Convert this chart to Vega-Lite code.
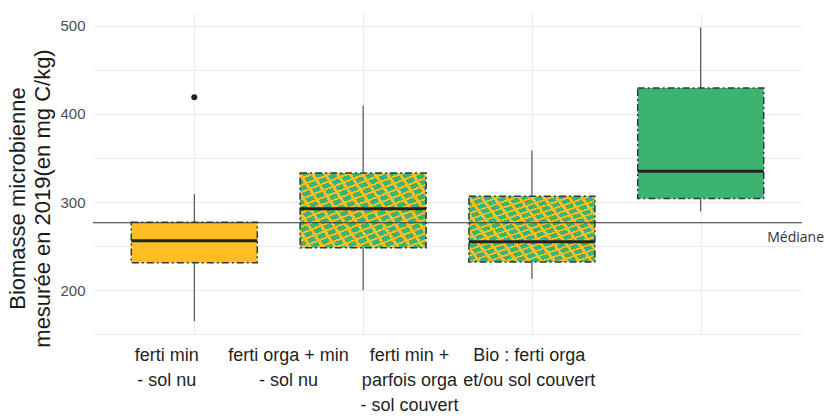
{
  "$schema": "https://vega.github.io/schema/vega-lite/v6.json",
  "width": 709,
  "height": 323,
  "autosize": {"type": "none"},
  "padding": {"left": 93, "top": 13, "right": 24, "bottom": 83},
  "background": "white",
  "config": {"view": {"stroke": null}},
  "datasets": {
    "boxes": [
      {"group": "ferti min\n - sol nu", "lower": 165, "q1": 231, "median": 256, "q3": 277, "upper": 309},
      {"group": "ferti orga + min\n - sol nu", "lower": 200, "q1": 248, "median": 292.5, "q3": 333, "upper": 409.5},
      {"group": "ferti min +\nparfois orga\n - sol couvert", "lower": 213, "q1": 232, "median": 255, "q3": 306.5, "upper": 358.5},
      {"group": "Bio : ferti orga\net/ou sol couvert", "lower": 289.5, "q1": 304, "median": 335, "q3": 429.5, "upper": 498}
    ],
    "outliers": [
      {"group": "ferti min\n - sol nu", "value": 419}
    ],
    "overall": [
      {"label": "Médiane", "value": 276.5}
    ]
  },
  "layer": [
    {
      "data": {"name": "boxes"},
      "mark": {"type": "rule", "color": "#333333", "strokeWidth": 1},
      "encoding": {
        "x": {
          "field": "group", "type": "nominal",
          "scale": {"type": "point", "padding": 0.6, "domain": ["ferti min\n - sol nu", "ferti orga + min\n - sol nu", "ferti min +\nparfois orga\n - sol couvert", "Bio : ferti orga\net/ou sol couvert"]},
          "axis": {
            "title": null,
            "domain": false,
            "ticks": false,
            "tickSize": 0,
            "grid": true,
            "gridColor": "#ebebeb",
            "gridWidth": 1,
            "labelAngle": 0,
            "labelAlign": "center",
            "labelBaseline": "top",
            "labelPadding": 10,
            "labelFont": "Liberation Sans",
            "labelFontSize": 18,
            "labelLineHeight": 25,
            "labelColor": "#1f1f1f",
            "labelExpr": "split(datum.label, '\\n')",
            "labelOffset": {
              "condition": [
                {"test": "indexof(datum.value, 'orga + min') >= 0", "value": -75},
                {"test": "indexof(datum.value, 'parfois') >= 0", "value": -123},
                {"test": "indexof(datum.value, 'Bio') >= 0", "value": -172}
              ],
              "value": -28
            }
          }
        },
        "y": {
          "field": "lower", "type": "quantitative",
          "scale": {"domain": [148, 514.5], "nice": false, "zero": false},
          "axis": {
            "values": [150, 200, 250, 300, 350, 400, 450, 500],
            "labelExpr": "datum.value % 100 === 0 ? datum.label : ''",
            "domain": false,
            "ticks": false,
            "tickSize": 0,
            "grid": true,
            "gridColor": "#ebebeb",
            "gridWidth": 1,
            "labelPadding": 8,
            "labelFont": "Liberation Sans",
            "labelFontSize": 15,
            "labelColor": "#4d4d4d",
            "title": ["Biomasse microbienne", "mesurée en 2019(en mg C/kg)"],
            "titleFont": "Liberation Sans",
            "titleFontSize": 22,
            "titleFontWeight": "normal",
            "titleColor": "#1a1a1a",
            "titleLineHeight": 25,
            "titlePadding": 5,
            "titleY": 185
          }
        },
        "y2": {"field": "upper"}
      }
    },
    {
      "data": {"name": "boxes"},
      "mark": {"type": "bar", "size": 126},
      "encoding": {
        "x": {"field": "group", "type": "nominal"},
        "y": {"field": "q1", "type": "quantitative"},
        "y2": {"field": "q3"},
        "color": {
          "field": "group", "type": "nominal", "legend": null,
          "scale": {"domain": ["ferti min\n - sol nu", "ferti orga + min\n - sol nu", "ferti min +\nparfois orga\n - sol couvert", "Bio : ferti orga\net/ou sol couvert"], "range": ["#FDBE23", "#3CB371", "#3CB371", "#3CB371"]}
        }
      }
    },
    {
      "data": {"name": "boxes"},
      "transform": [{"filter": {"field": "group", "oneOf": ["ferti orga + min\n - sol nu", "ferti min +\nparfois orga\n - sol couvert"]}}],
      "mark": {
        "type": "bar", "size": 126,
        "fill": {
          "gradient": "linear", "x1": 0, "y1": 0, "x2": 0.759, "y2": 1.157,
          "stops": [
            {"offset": 0, "color": "rgba(253,190,35,0)"}, {"offset": 0.03889, "color": "rgba(253,190,35,0)"}, {"offset": 0.03889, "color": "#FDBE23"}, {"offset": 0.05556, "color": "#FDBE23"},
            {"offset": 0.05556, "color": "rgba(253,190,35,0)"}, {"offset": 0.09444, "color": "rgba(253,190,35,0)"}, {"offset": 0.09444, "color": "#FDBE23"}, {"offset": 0.11111, "color": "#FDBE23"},
            {"offset": 0.11111, "color": "rgba(253,190,35,0)"}, {"offset": 0.15, "color": "rgba(253,190,35,0)"}, {"offset": 0.15, "color": "#FDBE23"}, {"offset": 0.16667, "color": "#FDBE23"},
            {"offset": 0.16667, "color": "rgba(253,190,35,0)"}, {"offset": 0.20556, "color": "rgba(253,190,35,0)"}, {"offset": 0.20556, "color": "#FDBE23"}, {"offset": 0.22222, "color": "#FDBE23"},
            {"offset": 0.22222, "color": "rgba(253,190,35,0)"}, {"offset": 0.26111, "color": "rgba(253,190,35,0)"}, {"offset": 0.26111, "color": "#FDBE23"}, {"offset": 0.27778, "color": "#FDBE23"},
            {"offset": 0.27778, "color": "rgba(253,190,35,0)"}, {"offset": 0.31667, "color": "rgba(253,190,35,0)"}, {"offset": 0.31667, "color": "#FDBE23"}, {"offset": 0.33333, "color": "#FDBE23"},
            {"offset": 0.33333, "color": "rgba(253,190,35,0)"}, {"offset": 0.37222, "color": "rgba(253,190,35,0)"}, {"offset": 0.37222, "color": "#FDBE23"}, {"offset": 0.38889, "color": "#FDBE23"},
            {"offset": 0.38889, "color": "rgba(253,190,35,0)"}, {"offset": 0.42778, "color": "rgba(253,190,35,0)"}, {"offset": 0.42778, "color": "#FDBE23"}, {"offset": 0.44444, "color": "#FDBE23"},
            {"offset": 0.44444, "color": "rgba(253,190,35,0)"}, {"offset": 0.48333, "color": "rgba(253,190,35,0)"}, {"offset": 0.48333, "color": "#FDBE23"}, {"offset": 0.5, "color": "#FDBE23"},
            {"offset": 0.5, "color": "rgba(253,190,35,0)"}, {"offset": 0.53889, "color": "rgba(253,190,35,0)"}, {"offset": 0.53889, "color": "#FDBE23"}, {"offset": 0.55556, "color": "#FDBE23"},
            {"offset": 0.55556, "color": "rgba(253,190,35,0)"}, {"offset": 0.59444, "color": "rgba(253,190,35,0)"}, {"offset": 0.59444, "color": "#FDBE23"}, {"offset": 0.61111, "color": "#FDBE23"},
            {"offset": 0.61111, "color": "rgba(253,190,35,0)"}, {"offset": 0.65, "color": "rgba(253,190,35,0)"}, {"offset": 0.65, "color": "#FDBE23"}, {"offset": 0.66667, "color": "#FDBE23"},
            {"offset": 0.66667, "color": "rgba(253,190,35,0)"}, {"offset": 0.70556, "color": "rgba(253,190,35,0)"}, {"offset": 0.70556, "color": "#FDBE23"}, {"offset": 0.72222, "color": "#FDBE23"},
            {"offset": 0.72222, "color": "rgba(253,190,35,0)"}, {"offset": 0.76111, "color": "rgba(253,190,35,0)"}, {"offset": 0.76111, "color": "#FDBE23"}, {"offset": 0.77778, "color": "#FDBE23"},
            {"offset": 0.77778, "color": "rgba(253,190,35,0)"}, {"offset": 0.81667, "color": "rgba(253,190,35,0)"}, {"offset": 0.81667, "color": "#FDBE23"}, {"offset": 0.83333, "color": "#FDBE23"},
            {"offset": 0.83333, "color": "rgba(253,190,35,0)"}, {"offset": 0.87222, "color": "rgba(253,190,35,0)"}, {"offset": 0.87222, "color": "#FDBE23"}, {"offset": 0.88889, "color": "#FDBE23"},
            {"offset": 0.88889, "color": "rgba(253,190,35,0)"}, {"offset": 0.92778, "color": "rgba(253,190,35,0)"}, {"offset": 0.92778, "color": "#FDBE23"}, {"offset": 0.94444, "color": "#FDBE23"},
            {"offset": 0.94444, "color": "rgba(253,190,35,0)"}, {"offset": 0.98333, "color": "rgba(253,190,35,0)"}, {"offset": 0.98333, "color": "#FDBE23"}, {"offset": 1, "color": "#FDBE23"}
          ]
        }
      },
      "encoding": {
        "x": {"field": "group", "type": "nominal"},
        "y": {"field": "q1", "type": "quantitative"},
        "y2": {"field": "q3"}
      }
    },
    {
      "data": {"name": "boxes"},
      "transform": [{"filter": {"field": "group", "oneOf": ["ferti orga + min\n - sol nu", "ferti min +\nparfois orga\n - sol couvert"]}}],
      "mark": {
        "type": "bar", "size": 126,
        "fill": {
          "gradient": "linear", "x1": 0, "y1": 1, "x2": 1.207, "y2": 0.53,
          "stops": [
            {"offset": 0, "color": "rgba(253,190,35,0)"}, {"offset": 0.05143, "color": "rgba(253,190,35,0)"}, {"offset": 0.05143, "color": "#FDBE23"}, {"offset": 0.07143, "color": "#FDBE23"},
            {"offset": 0.07143, "color": "rgba(253,190,35,0)"}, {"offset": 0.12286, "color": "rgba(253,190,35,0)"}, {"offset": 0.12286, "color": "#FDBE23"}, {"offset": 0.14286, "color": "#FDBE23"},
            {"offset": 0.14286, "color": "rgba(253,190,35,0)"}, {"offset": 0.19429, "color": "rgba(253,190,35,0)"}, {"offset": 0.19429, "color": "#FDBE23"}, {"offset": 0.21429, "color": "#FDBE23"},
            {"offset": 0.21429, "color": "rgba(253,190,35,0)"}, {"offset": 0.26571, "color": "rgba(253,190,35,0)"}, {"offset": 0.26571, "color": "#FDBE23"}, {"offset": 0.28571, "color": "#FDBE23"},
            {"offset": 0.28571, "color": "rgba(253,190,35,0)"}, {"offset": 0.33714, "color": "rgba(253,190,35,0)"}, {"offset": 0.33714, "color": "#FDBE23"}, {"offset": 0.35714, "color": "#FDBE23"},
            {"offset": 0.35714, "color": "rgba(253,190,35,0)"}, {"offset": 0.40857, "color": "rgba(253,190,35,0)"}, {"offset": 0.40857, "color": "#FDBE23"}, {"offset": 0.42857, "color": "#FDBE23"},
            {"offset": 0.42857, "color": "rgba(253,190,35,0)"}, {"offset": 0.48, "color": "rgba(253,190,35,0)"}, {"offset": 0.48, "color": "#FDBE23"}, {"offset": 0.5, "color": "#FDBE23"},
            {"offset": 0.5, "color": "rgba(253,190,35,0)"}, {"offset": 0.55143, "color": "rgba(253,190,35,0)"}, {"offset": 0.55143, "color": "#FDBE23"}, {"offset": 0.57143, "color": "#FDBE23"},
            {"offset": 0.57143, "color": "rgba(253,190,35,0)"}, {"offset": 0.62286, "color": "rgba(253,190,35,0)"}, {"offset": 0.62286, "color": "#FDBE23"}, {"offset": 0.64286, "color": "#FDBE23"},
            {"offset": 0.64286, "color": "rgba(253,190,35,0)"}, {"offset": 0.69429, "color": "rgba(253,190,35,0)"}, {"offset": 0.69429, "color": "#FDBE23"}, {"offset": 0.71429, "color": "#FDBE23"},
            {"offset": 0.71429, "color": "rgba(253,190,35,0)"}, {"offset": 0.76571, "color": "rgba(253,190,35,0)"}, {"offset": 0.76571, "color": "#FDBE23"}, {"offset": 0.78571, "color": "#FDBE23"},
            {"offset": 0.78571, "color": "rgba(253,190,35,0)"}, {"offset": 0.83714, "color": "rgba(253,190,35,0)"}, {"offset": 0.83714, "color": "#FDBE23"}, {"offset": 0.85714, "color": "#FDBE23"},
            {"offset": 0.85714, "color": "rgba(253,190,35,0)"}, {"offset": 0.90857, "color": "rgba(253,190,35,0)"}, {"offset": 0.90857, "color": "#FDBE23"}, {"offset": 0.92857, "color": "#FDBE23"},
            {"offset": 0.92857, "color": "rgba(253,190,35,0)"}, {"offset": 0.98, "color": "rgba(253,190,35,0)"}, {"offset": 0.98, "color": "#FDBE23"}, {"offset": 1, "color": "#FDBE23"}
          ]
        }
      },
      "encoding": {
        "x": {"field": "group", "type": "nominal"},
        "y": {"field": "q1", "type": "quantitative"},
        "y2": {"field": "q3"}
      }
    },
    {
      "data": {"name": "boxes"},
      "mark": {"type": "bar", "size": 126, "fillOpacity": 0, "stroke": "#2e3b3b", "strokeWidth": 1.5, "strokeDash": [7, 3, 2, 3]},
      "encoding": {
        "x": {"field": "group", "type": "nominal"},
        "y": {"field": "q1", "type": "quantitative"},
        "y2": {"field": "q3"}
      }
    },
    {
      "data": {"name": "boxes"},
      "mark": {"type": "tick", "size": 126, "thickness": 3, "color": "#222222", "opacity": 1},
      "encoding": {
        "x": {"field": "group", "type": "nominal"},
        "y": {"field": "median", "type": "quantitative"}
      }
    },
    {
      "data": {"name": "outliers"},
      "mark": {"type": "point", "filled": true, "size": 36, "color": "#222222", "opacity": 1},
      "encoding": {
        "x": {"field": "group", "type": "nominal"},
        "y": {"field": "value", "type": "quantitative"}
      }
    },
    {
      "data": {"name": "overall"},
      "mark": {"type": "rule", "color": "#333333", "strokeWidth": 1.2},
      "encoding": {
        "y": {"field": "value", "type": "quantitative"}
      }
    },
    {
      "data": {"name": "overall"},
      "mark": {"type": "text", "align": "right", "baseline": "middle", "dx": 22, "dy": 15, "font": "Open Sans", "fontSize": 14, "color": "#333333"},
      "encoding": {
        "x": {"value": {"expr": "width"}},
        "y": {"field": "value", "type": "quantitative"},
        "text": {"field": "label"}
      }
    }
  ]
}
